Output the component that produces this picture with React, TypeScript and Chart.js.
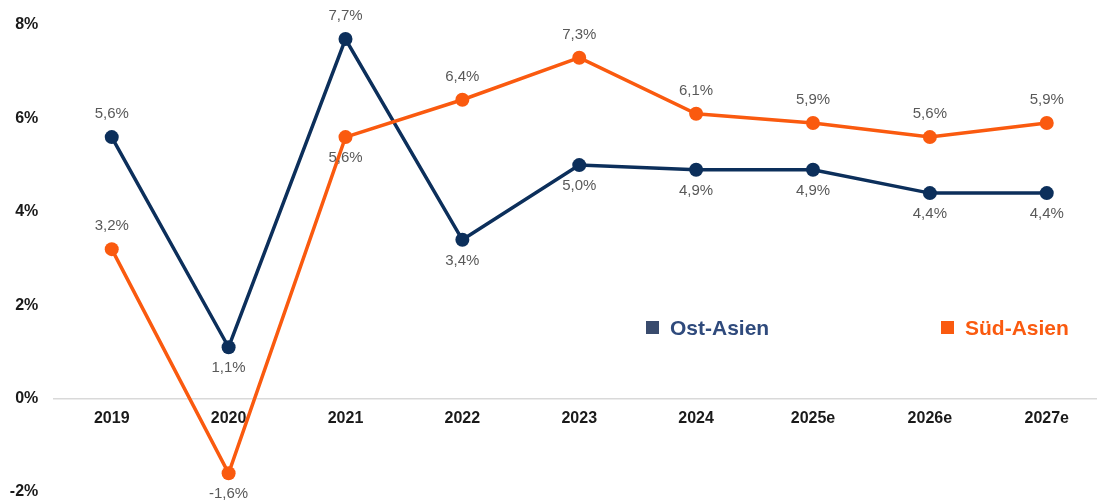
import React, { useEffect, useRef } from "react";
import { Chart, registerables } from "chart.js";

Chart.register(...registerables);

const categories = ["2019", "2020", "2021", "2022", "2023", "2024", "2025e", "2026e", "2027e"];
const ostAsien = [5.6, 1.1, 7.7, 3.4, 5.0, 4.9, 4.9, 4.4, 4.4];
const suedAsien = [3.2, -1.6, 5.6, 6.4, 7.3, 6.1, 5.9, 5.6, 5.9];
// label placement: 1 = above point, -1 = below point
const ostLabelSide = [1, -1, 1, -1, -1, -1, -1, -1, -1];
const suedLabelSide = [1, -1, -1, 1, 1, 1, 1, 1, 1];
const seriesNames = ["Ost-Asien", "Süd-Asien"];
const yTicks = [-2, 0, 2, 4, 6, 8];

const NAVY = "#0c2f5b";
const ORANGE = "#fa5a0f";
const FONT = "'Liberation Sans', Arial, Helvetica, sans-serif";

const fmt = (v: number) => v.toFixed(1).replace(".", ",") + "%";

const labelPlugin = {
  id: "valueLabels",
  afterDatasetsDraw(chart: any) {
    const { ctx } = chart;
    ctx.save();
    ctx.font = `15px ${FONT}`;
    ctx.fillStyle = "#595959";
    ctx.textAlign = "center";
    ctx.textBaseline = "middle";
    chart.data.datasets.forEach((ds: any, di: number) => {
      const meta = chart.getDatasetMeta(di);
      const sides = ds.labelSides as number[];
      meta.data.forEach((pt: any, i: number) => {
        const v = ds.data[i].y;
        const off = sides[i] > 0 ? -23 : 21;
        ctx.fillText(fmt(v), pt.x, pt.y + off);
      });
    });
    ctx.restore();
  },
};

const legendPlugin = {
  id: "customLegend",
  afterDraw(chart: any) {
    const { ctx } = chart;
    ctx.save();
    ctx.font = `bold 21px ${FONT}`;
    ctx.textBaseline = "middle";
    ctx.textAlign = "left";
    const items = [
      { name: seriesNames[0], sq: "#394b6d", txt: "#2f4a7c", x: 646 },
      { name: seriesNames[1], sq: ORANGE, txt: ORANGE, x: 941 },
    ];
    items.forEach((it) => {
      ctx.fillStyle = it.sq;
      ctx.fillRect(it.x, 321, 13, 13);
      ctx.fillStyle = it.txt;
      ctx.fillText(it.name, it.x + 24, 329);
    });
    ctx.restore();
  },
};

export default function App() {
  const ref = useRef<HTMLCanvasElement>(null);
  useEffect(() => {
    document.body.style.margin = "0";
    const chart = new Chart(ref.current!, {
      type: "line",
      data: {
        datasets: [
          {
            label: seriesNames[0],
            data: categories.map((_, i) => ({ x: i, y: ostAsien[i] })),
            borderColor: NAVY,
            backgroundColor: NAVY,
            borderWidth: 3.5,
            pointRadius: 7,
            pointBorderWidth: 0,
            pointBackgroundColor: NAVY,
            tension: 0,
            order: 1,
            labelSides: ostLabelSide,
          } as any,
          {
            label: seriesNames[1],
            data: categories.map((_, i) => ({ x: i, y: suedAsien[i] })),
            borderColor: ORANGE,
            backgroundColor: ORANGE,
            borderWidth: 3.5,
            pointRadius: 7,
            pointBorderWidth: 0,
            pointBackgroundColor: ORANGE,
            tension: 0,
            order: 0,
            labelSides: suedLabelSide,
          } as any,
        ],
      },
      options: {
        animation: false,
        responsive: false,
        layout: { autoPadding: false, padding: { top: 25, bottom: 9, left: 0, right: 0 } },
        plugins: { legend: { display: false }, tooltip: { enabled: false } },
        scales: {
          x: {
            type: "linear",
            position: { y: 0 } as any,
            min: -0.5,
            max: 8.43,
            afterBuildTicks: (scale: any) => {
              scale.ticks = categories.map((_, i) => ({ value: i }));
            },
            afterFit: (scale: any) => {
              scale.height = 0;
              scale.paddingLeft = 0;
              scale.paddingRight = 0;
              scale.paddingTop = 0;
              scale.paddingBottom = 0;
            },
            ticks: {
              autoSkip: false,
              maxRotation: 0,
              padding: 10,
              color: "#1a1a1a",
              font: { family: FONT, size: 16, weight: "bold" },
              callback: (v: any) => categories[Math.round(Number(v))] ?? "",
            },
            grid: { display: false, drawTicks: false },
            border: { display: true, color: "#d9d9d9", width: 1.5 },
          },
          y: {
            type: "linear",
            min: -2,
            max: 8,
            afterBuildTicks: (scale: any) => {
              scale.ticks = yTicks.map((v) => ({ value: v }));
            },
            afterFit: (scale: any) => {
              scale.width = 53.3;
              scale.paddingTop = 0;
              scale.paddingBottom = 0;
            },
            ticks: {
              padding: 15,
              color: "#1a1a1a",
              font: { family: FONT, size: 16, weight: "bold" },
              callback: (v: any) => `${v}%`,
            },
            grid: { display: false, drawTicks: false },
            border: { display: false },
          },
        },
      },
      plugins: [labelPlugin, legendPlugin],
    });
    return () => chart.destroy();
  }, []);
  return <canvas ref={ref} width={1097} height={501} style={{ display: "block" }} />;
}
